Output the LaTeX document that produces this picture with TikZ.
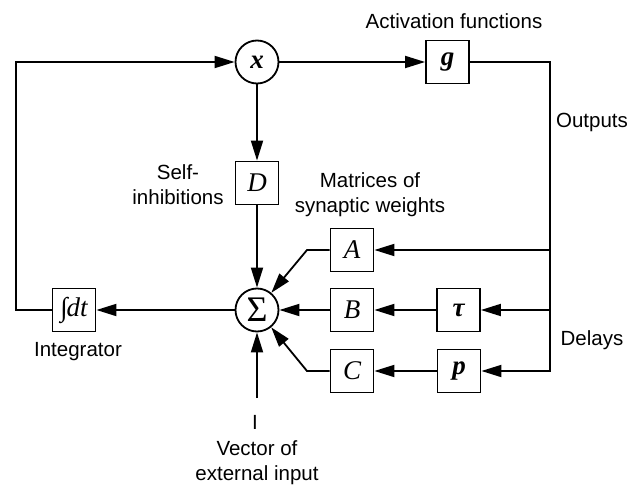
\documentclass[tikz,border=0pt]{standalone}
\usepackage{fontspec}
\setmainfont{Liberation Sans}
\newfontfamily\serifit{Liberation Serif}
\usetikzlibrary{arrows.meta}
\begin{document}
\begin{tikzpicture}[x=1pt,y=-1pt,
  every node/.style={font=\fontsize{20.5}{25}\selectfont},
  box/.style={draw,line width=1.8pt,minimum size=43pt,inner sep=0pt,font=\serifit\itshape\fontsize{27}{27}\selectfont},
  vbox/.style={box,font=\serifit\bfseries\itshape\fontsize{27}{27}\selectfont},
  circ/.style={draw,circle,line width=1.8pt,minimum size=43pt,inner sep=0pt,font=\serifit\bfseries\itshape\fontsize{27}{27}\selectfont},
  conn/.style={line width=1.8pt},
  arr/.style={line width=1.8pt,-{Triangle[length=20pt,width=12pt]}},
  lbl/.style={align=center,inner sep=0pt}]
\useasboundingbox (0,0) rectangle (631,486);
% nodes
\node[circ] (x) at (257,62) {x};
\node[vbox] (g) at (447.5,62) {g};
\node[box] (D) at (257,183) {D};
\node[circ,font=\serifit\fontsize{36}{36}\selectfont] (S) at (257,310) {Σ};
\node[box,font=\serifit\itshape\fontsize{27}{27}\selectfont] (I) at (74,310) {∫\kern-1pt dt};
\node[box] (A) at (352,250) {A};
\node[box] (B) at (352,310) {B};
\node[box] (C) at (352,371) {C};
\node[vbox] (T) at (458.5,310) {τ};
\node[vbox] (P) at (459,371) {p};
% coordinates
\coordinate (rg) at (550,62);
\coordinate (rA) at (550,250);
\coordinate (rT) at (550,310);
\coordinate (rP) at (550,371);
\coordinate (lI) at (16,310);
\coordinate (kA) at (307,250);
\coordinate (kC) at (307,371);
\coordinate (ext) at (257,398);
% connectors
\draw[arr] (I.west) -- (lI) |- (x.west);
\draw[arr] (x.east) -- (g.west);
\draw[arr] (g.east) -- (rg) -- (rP) -- (P.east);
\draw[arr] (rA) -- (A.east);
\draw[arr] (rT) -- (T.east);
\draw[arr] (x.south) -- (D.north);
\draw[arr] (D.south) -- (S.north);
\draw[arr] (S.west) -- (I.east);
\draw[arr] (A.west) -- (kA) -- (S);
\draw[arr] (B.west) -- (S.east);
\draw[arr] (C.west) -- (kC) -- (S);
\draw[arr] (T.west) -- (B.east);
\draw[arr] (P.west) -- (C.east);
\draw[arr] (ext) -- (S.south);
% labels
\node[lbl] (lact) at (454,21) {Activation functions};
\node[lbl] (lout) at (592,122) {Outputs};
\node[lbl] (lself) at (178,185) {Self-\\inhibitions};
\node[lbl] (lmat) at (370,195) {Matrices of\\synaptic weights};
\node[lbl] (lint) at (78,352) {Integrator};
\node[lbl] (ldel) at (592,340) {Delays};
\node[lbl] (lI) at (255,422) {I};
\node[lbl] (lvec) at (257,463) {Vector of\\external input};
\end{tikzpicture}
\end{document}
